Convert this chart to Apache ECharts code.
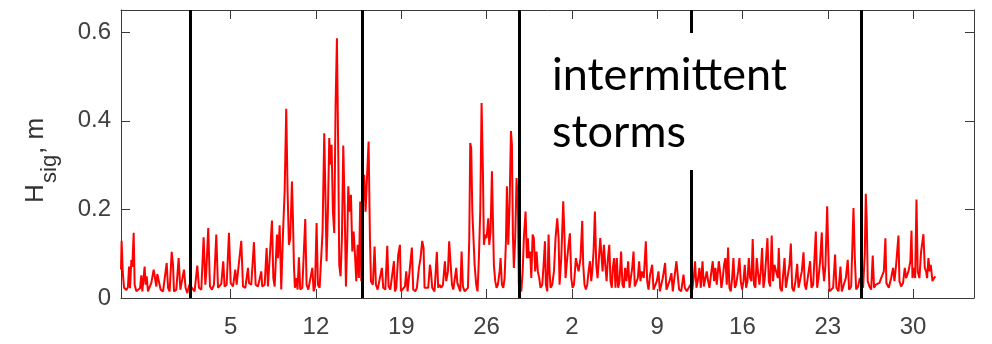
<!DOCTYPE html>
<html>
<head>
<meta charset="utf-8">
<script src="https://cdn.jsdelivr.net/npm/echarts@6/dist/echarts.min.js"></script>
<style>
  html, body { margin: 0; padding: 0; background: #ffffff; }
  #chart { width: 992px; height: 344px; }
</style>
</head>
<body>
<div id="chart"></div>
<script>
// Record time, days since the first sample
const recordDays = [
  0.00,0.05,0.14,0.25,0.44,0.57,0.66,0.74,0.85,0.93,1.04,1.12,1.26,1.39,1.56,1.67,1.75,1.94,2.02,2.11,
  2.21,2.35,2.49,2.68,2.76,2.90,2.98,3.14,3.25,3.45,3.58,3.75,3.86,3.99,4.16,4.27,4.35,4.54,4.73,4.87,
  5.03,5.17,5.30,5.44,5.61,5.82,6.04,6.26,6.40,6.59,6.78,6.92,7.00,7.16,7.30,7.47,7.63,7.82,7.96,8.12,
  8.23,8.39,8.50,8.67,8.86,9.00,9.19,9.38,9.49,9.65,9.87,10.01,10.20,10.42,10.50,10.69,10.91,11.05,11.24,11.51,
  11.59,11.79,11.95,12.06,12.20,12.39,12.50,12.61,12.80,12.88,13.02,13.15,
  13.29,13.43,13.56,13.67,13.78,13.89,14.03,14.11,14.19,14.27,14.38,14.49,14.60,14.71,14.88,14.99,15.12,15.23,15.37,15.53,
  15.70,15.81,15.92,16.05,16.16,16.30,16.43,16.54,16.68,16.79,16.87,16.98,17.09,17.17,17.28,17.39,17.50,17.61,17.72,17.83,
  17.91,18.02,18.13,18.24,18.35,18.46,18.57,18.65,18.76,18.87,18.98,19.09,19.20,19.31,19.42,19.52,19.63,19.72,19.85,19.96,
  20.07,20.21,20.32,20.43,20.51,20.67,20.81,20.92,21.06,21.22,21.41,21.52,21.69,21.85,21.96,22.10,22.26,22.40,22.48,22.59,
  22.75,22.89,22.97,23.13,23.30,23.41,23.52,23.68,23.87,23.98,24.15,24.28,24.45,24.58,24.72,24.83,24.91,25.05,25.21,25.35,
  25.43,25.54,25.73,25.92,26.03,26.14,26.28,26.42,26.58,26.69,26.83,26.93,
  27.05,27.16,27.27,27.38,27.51,27.60,27.73,27.84,27.95,28.06,28.20,28.33,28.47,28.58,28.66,28.74,28.83,28.91,29.02,29.15,
  29.26,29.37,29.48,29.59,29.70,29.78,29.89,30.00,30.14,30.22,30.33,30.44,30.52,30.60,30.71,30.82,30.93,31.07,31.15,31.26,
  31.37,31.48,31.59,31.67,31.78,31.89,32.00,32.08,32.16,32.24,32.35,32.46,32.57,32.65,32.85,32.96,33.06,33.20,33.31,33.39,
  33.47,33.58,33.67,33.78,33.88,33.99,34.10,34.21,34.32,34.43,34.57,34.68,34.79,34.87,34.98,35.09,35.17,35.25,35.39,35.53,
  35.66,35.80,35.91,35.99,36.13,36.29,36.40,36.48,36.62,36.73,36.84,36.95,37.06,37.17,37.33,37.44,37.55,37.71,37.85,37.93,
  38.04,38.15,38.26,38.37,38.48,38.59,38.67,38.78,38.89,39.00,39.11,39.22,39.33,39.41,39.52,39.63,39.74,39.85,39.96,40.07,
  40.17,40.28,
  40.36,40.47,40.58,40.69,40.80,40.91,41.04,41.15,41.26,41.37,41.48,41.62,41.73,41.84,41.95,42.06,42.16,42.27,42.41,42.52,
  42.63,42.74,42.90,43.07,43.18,43.29,43.42,43.59,43.70,43.83,43.97,44.11,44.22,44.32,44.46,44.65,44.76,44.90,45.01,45.17,
  45.28,45.42,45.58,45.69,45.80,45.97,46.16,46.27,46.43,46.59,46.73,46.87,47.00,47.11,47.22,47.33,47.47,47.58,47.72,47.83,
  47.96,48.07,48.18,48.29,48.45,48.56,48.67,48.78,48.89,49.06,49.16,49.27,49.38,49.49,49.60,49.71,49.82,49.93,50.04,50.15,
  50.26,50.37,50.48,50.64,50.75,50.86,50.97,51.08,51.19,51.30,51.41,51.52,51.63,51.74,51.84,51.95,52.06,52.17,52.28,52.39,
  52.50,52.61,52.72,52.83,52.94,53.05,53.16,53.27,53.40,53.51,53.62,
  53.90,53.98,54.09,54.23,54.36,54.45,54.56,54.72,54.86,54.97,55.08,55.21,55.35,55.49,55.60,55.70,55.87,56.01,56.11,56.22,
  56.36,56.55,56.66,56.80,56.91,57.02,57.13,57.24,57.37,57.51,57.59,57.70,57.81,57.95,58.03,58.14,58.28,58.44,58.60,58.71,
  58.88,59.04,59.15,59.31,59.48,59.64,59.75,59.92,60.11,60.22,60.33,60.49,60.63,60.90,61.04,61.12,61.20,61.28,61.42,61.56,
  61.69,61.80,61.94,62.08,62.24,62.38,62.60,62.73,62.81,63.01,63.20,63.36,63.47,63.61,63.80,63.88,64.02,64.18,64.32,64.43,
  64.62,64.78,64.87,64.95,65.06,65.17,65.28,65.38,65.52,65.66,65.85,65.96,66.07,66.15,66.26,66.37,66.45,66.59,66.72,66.83
];

// Significant wave height at each record time, m
const recordHsig = [
  0.064,0.129,0.060,0.023,0.018,0.025,0.071,0.022,0.086,0.070,0.147,0.030,0.015,0.013,0.022,0.051,0.015,0.071,0.030,0.049,
  0.015,0.011,0.034,0.064,0.060,0.026,0.054,0.058,0.019,0.015,0.019,0.079,0.023,0.015,0.104,0.075,0.015,0.019,0.090,0.019,
  0.015,0.064,0.023,0.011,0.030,0.023,0.015,0.073,0.023,0.019,0.137,0.030,0.060,0.158,0.026,0.019,0.030,0.143,0.023,0.026,
  0.032,0.083,0.026,0.030,0.147,0.034,0.026,0.064,0.030,0.026,0.129,0.026,0.023,0.068,0.034,0.030,0.126,0.030,0.026,0.060,
  0.026,0.030,0.113,0.026,0.023,0.175,0.045,0.026,0.143,0.090,0.164,0.019,
  0.143,0.241,0.427,0.241,0.120,0.135,0.263,0.180,0.075,0.023,0.045,0.019,0.092,0.019,0.023,0.026,0.178,0.030,0.019,0.015,
  0.068,0.015,0.026,0.169,0.030,0.023,0.026,0.150,0.372,0.211,0.083,0.195,0.361,0.301,0.346,0.195,0.147,0.436,0.586,0.323,
  0.075,0.049,0.135,0.344,0.211,0.026,0.135,0.252,0.195,0.233,0.105,0.150,0.098,0.038,0.120,0.045,0.218,0.038,0.211,0.278,
  0.195,0.286,0.353,0.135,0.038,0.030,0.116,0.030,0.019,0.019,0.068,0.023,0.019,0.118,0.026,0.019,0.015,0.083,0.015,0.023,
  0.098,0.120,0.015,0.011,0.026,0.060,0.015,0.019,0.114,0.019,0.015,0.023,0.068,0.090,0.129,0.113,0.023,0.019,0.023,0.075,
  0.060,0.023,0.015,0.104,0.023,0.030,0.023,0.030,0.083,0.038,0.060,0.128,
  0.128,0.030,0.019,0.023,0.068,0.034,0.038,0.015,0.105,0.026,0.015,0.011,0.023,0.135,0.350,0.338,0.195,0.192,0.075,0.030,
  0.015,0.090,0.195,0.440,0.286,0.120,0.143,0.135,0.180,0.120,0.150,0.286,0.180,0.075,0.038,0.023,0.030,0.060,0.090,0.030,
  0.023,0.045,0.128,0.252,0.120,0.211,0.377,0.346,0.143,0.068,0.135,0.271,0.211,0.030,0.015,0.060,0.135,0.195,0.090,0.135,
  0.090,0.105,0.045,0.143,0.135,0.060,0.105,0.060,0.045,0.023,0.030,0.075,0.128,0.030,0.015,0.143,0.060,0.023,0.030,0.060,
  0.135,0.180,0.135,0.030,0.090,0.218,0.135,0.045,0.090,0.120,0.146,0.045,0.023,0.030,0.090,0.075,0.060,0.090,0.174,0.075,
  0.030,0.019,0.030,0.060,0.083,0.038,0.060,0.105,0.195,0.075,0.045,0.090,0.135,0.105,0.060,0.120,0.075,0.038,0.090,0.120,
  0.038,0.023,
  0.068,0.090,0.023,0.090,0.023,0.038,0.105,0.030,0.023,0.068,0.038,0.083,0.023,0.019,0.068,0.105,0.026,0.023,0.045,0.083,
  0.038,0.060,0.045,0.128,0.038,0.019,0.053,0.075,0.019,0.015,0.038,0.060,0.015,0.019,0.045,0.079,0.019,0.015,0.038,0.056,
  0.015,0.019,0.083,0.084,0.019,0.015,0.053,0.023,0.015,0.019,0.030,0.017,0.045,0.083,0.023,0.038,0.068,0.023,0.083,0.026,
  0.045,0.060,0.038,0.023,0.060,0.083,0.038,0.068,0.030,0.083,0.060,0.023,0.045,0.075,0.090,0.030,0.114,0.023,0.015,0.045,
  0.090,0.023,0.030,0.060,0.090,0.038,0.019,0.038,0.075,0.023,0.038,0.090,0.045,0.038,0.133,0.030,0.023,0.090,0.056,0.030,
  0.060,0.113,0.023,0.045,0.090,0.135,0.038,0.026,0.141,0.038,0.075,
  0.045,0.113,0.023,0.015,0.060,0.090,0.023,0.019,0.075,0.123,0.023,0.015,0.038,0.077,0.023,0.026,0.060,0.103,0.030,0.019,
  0.023,0.083,0.023,0.030,0.090,0.150,0.023,0.045,0.083,0.148,0.075,0.038,0.075,0.207,0.120,0.015,0.011,0.023,0.098,0.023,
  0.015,0.071,0.015,0.019,0.045,0.086,0.019,0.026,0.203,0.090,0.019,0.026,0.045,0.023,0.102,0.235,0.173,0.038,0.026,0.019,
  0.096,0.023,0.030,0.026,0.034,0.045,0.060,0.135,0.034,0.023,0.045,0.068,0.038,0.075,0.141,0.038,0.026,0.034,0.068,0.045,
  0.060,0.083,0.152,0.045,0.068,0.045,0.222,0.060,0.045,0.105,0.144,0.068,0.060,0.045,0.090,0.060,0.075,0.038,0.045,0.049
];

// Weekly date ticks (day of month) and where they fall in record days
const tickDays = [9, 16, 23, 30, 37, 44, 51, 58, 65];
const tickLabels = ['5', '12', '19', '26', '2', '9', '16', '23', '30'];

// Wave height ticks, m
const hsigTicks = [0, 0.2, 0.4, 0.6];

// Period boundaries, record days
const boundaryDays = [5.72, 19.77, 32.70, 46.79, 60.76];

// Annotation text
const noteLines = ['intermittent', 'storms'];

const axisColor = '#3a3a3a';
const labelColor = '#404040';
const axisFont = '"Liberation Sans", Arial, Helvetica, sans-serif';

const n = Math.min(recordDays.length, recordHsig.length);
const seriesData = [];
for (let i = 0; i < n; i++) seriesData.push([recordDays[i], recordHsig[i]]);

const chart = echarts.init(document.getElementById('chart'), null, { renderer: 'canvas' });

function frameAxis(extra) {
  return Object.assign({
    type: 'value',
    axisLine: { show: true, onZero: false, lineStyle: { color: axisColor, width: 1 } },
    splitLine: { show: false }
  }, extra);
}

chart.setOption({
  animation: false,
  backgroundColor: '#ffffff',
  grid: { left: 121, right: 18, top: 10, bottom: 46, containLabel: false },
  xAxis: [
    frameAxis({
      position: 'bottom', min: 0, max: 70,
      axisTick: { show: true, inside: true, length: 9, customValues: tickDays, lineStyle: { color: axisColor } },
      axisLabel: {
        show: true, customValues: tickDays, margin: 17,
        fontSize: 24, fontFamily: axisFont, color: labelColor,
        formatter: function (v) { const k = tickDays.indexOf(v); return k >= 0 ? tickLabels[k] : ''; }
      }
    }),
    frameAxis({
      position: 'top', min: 0, max: 70,
      axisTick: { show: true, inside: true, length: 9, customValues: tickDays, lineStyle: { color: axisColor } },
      axisLabel: { show: false }
    })
  ],
  yAxis: [
    frameAxis({
      position: 'left', min: 0, max: 0.65,
      axisTick: { show: true, inside: true, length: 9, customValues: hsigTicks, lineStyle: { color: axisColor } },
      axisLabel: {
        show: true, customValues: hsigTicks, margin: 10,
        fontSize: 24, fontFamily: axisFont, color: labelColor,
        padding: [5, 0, 0, 0],
        formatter: function (v) { return String(v); }
      }
    }),
    frameAxis({
      position: 'right', min: 0, max: 0.65,
      axisTick: { show: true, inside: true, length: 9, customValues: hsigTicks, lineStyle: { color: axisColor } },
      axisLabel: { show: false }
    })
  ],
  series: [{
    type: 'line',
    xAxisIndex: 0,
    yAxisIndex: 0,
    data: seriesData,
    showSymbol: false,
    symbol: 'none',
    silent: true,
    lineStyle: { color: '#ff0000', width: 2 },
    markLine: {
      silent: true,
      symbol: ['none', 'none'],
      label: { show: false },
      lineStyle: { color: '#000000', width: 3, type: 'solid' },
      emphasis: { disabled: true },
      data: boundaryDays.map(function (d) { return { xAxis: d }; })
    }
  }],
  graphic: [
    {
      type: 'rect', z: 100, silent: true,
      shape: { x: 538, y: 33, width: 262, height: 137 },
      style: { fill: '#ffffff' }
    },
    {
      type: 'text', z: 101, silent: true, x: 552, y: 75,
      style: { text: noteLines[0], fontSize: 45, fontFamily: 'Lato, "Open Sans", sans-serif', fill: '#000000', align: 'left', verticalAlign: 'middle' }
    },
    {
      type: 'text', z: 101, silent: true, x: 552, y: 132,
      style: { text: noteLines[1], fontSize: 45, fontFamily: 'Lato, "Open Sans", sans-serif', fill: '#000000', align: 'left', verticalAlign: 'middle' }
    },
    {
      // Rotated axis title: H with subscript "sig", then ", m"
      type: 'group', z: 101, silent: true, x: 44, y: 203, rotation: Math.PI / 2,
      children: [
        { type: 'text', x: 0, y: -8, style: { text: 'H', fontSize: 26, fontFamily: axisFont, fill: '#333333', align: 'left', verticalAlign: 'middle' } },
        { type: 'text', x: 20, y: 6, style: { text: 'sig', fontSize: 22, fontFamily: axisFont, fill: '#333333', align: 'left', verticalAlign: 'middle' } },
        { type: 'text', x: 49, y: -8, style: { text: ', m', fontSize: 26, fontFamily: axisFont, fill: '#333333', align: 'left', verticalAlign: 'middle' } }
      ]
    }
  ]
});
</script>
</body>
</html>
